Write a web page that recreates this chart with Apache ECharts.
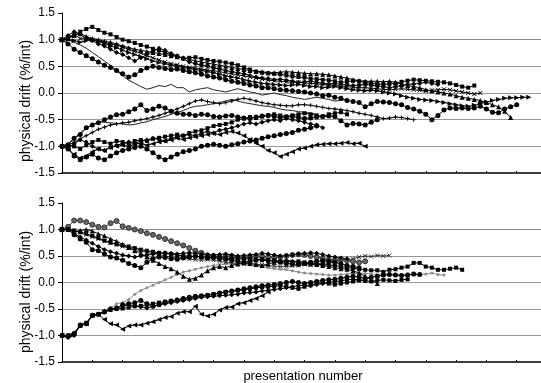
<!DOCTYPE html>
<html>
<head>
<meta charset="utf-8">
<script src="https://cdn.jsdelivr.net/npm/echarts@6/dist/echarts.min.js"></script>
<style>
  html, body { margin: 0; padding: 0; background: #fff; }
  #main { width: 541px; height: 383px; }
</style>
</head>
<body>
<div id="main"></div>
<script>
// one value per presentation, index = presentation number

// top panel, runs starting at +1
const topUp1 = [1.00,1.02,1.08,1.15,1.20,1.24,1.18,1.13,1.10,1.05,1.00,0.97,0.94,0.90,0.87,0.83,0.80,0.76,0.72,0.68,0.65,0.66,0.67,0.64,0.62,0.60,0.59,0.57,0.55,0.52,0.48,0.44,0.40,0.38,0.37,0.36,0.35,0.33,0.31,0.30,0.29,0.27,0.26,0.25,0.24,0.22,0.20,0.21,0.23,0.22,0.20,0.18,0.17,0.16,0.17,0.18,0.21,0.23,0.25,0.24,0.23,0.22,0.21,0.20,0.18,0.15,0.12,0.10,0.14];
const topUp2 = [1.00,1.03,1.08,1.12,1.06,1.02,1.00,0.97,0.95,0.92,0.88,0.85,0.82,0.80,0.78,0.76,0.74,0.72,0.70,0.68,0.66,0.63,0.60,0.58,0.56,0.54,0.52,0.50,0.48,0.46,0.44,0.42,0.41,0.40,0.38,0.38,0.39,0.40,0.39,0.38,0.37,0.36,0.36,0.35,0.34,0.32,0.30,0.28,0.25,0.23,0.22,0.22,0.22,0.21,0.22,0.20,0.16,0.14,0.12,0.10,0.06,0.04,0.02,0.00,-0.02,-0.05,-0.08,-0.10,-0.12,-0.14,-0.18,-0.22,-0.26,-0.34,-0.46];
const topUp3 = [1.00,1.00,0.98,0.95,0.98,1.00,0.97,0.93,0.88,0.85,0.80,0.76,0.72,0.68,0.64,0.60,0.57,0.55,0.52,0.50,0.48,0.46,0.44,0.42,0.40,0.38,0.35,0.32,0.30,0.28,0.25,0.22,0.20,0.18,0.17,0.16,0.15,0.14,0.15,0.16,0.14,0.12,0.12,0.10,0.11,0.12,0.10,0.08,0.06,0.05,0.04,0.05,0.04,0.02,0.00,-0.02,-0.05,-0.08,-0.10,-0.12,-0.13,-0.14,-0.16,-0.18,-0.20,-0.22,-0.24,-0.25,-0.23,-0.20,-0.17,-0.14,-0.12,-0.10,-0.09,-0.09,-0.08,-0.08];
const topUp4 = [1.00,0.92,0.82,0.76,0.70,0.64,0.58,0.52,0.48,0.42,0.36,0.30,0.34,0.42,0.47,0.50,0.48,0.46,0.44,0.45,0.42,0.40,0.38,0.35,0.32,0.30,0.28,0.25,0.22,0.20,0.18,0.15,0.13,0.10,0.10,0.08,0.06,0.05,0.04,0.03,0.02,0.00,-0.02,-0.05,-0.04,-0.08,-0.10,-0.14,-0.16,-0.18,-0.26,-0.20,-0.16,-0.17,-0.18,-0.20,-0.22,-0.27,-0.30,-0.34,-0.40,-0.50,-0.42,-0.32,-0.28,-0.29,-0.28,-0.29,-0.28,-0.25,-0.30,-0.36,-0.37,-0.30,-0.26,-0.22];
const topUp5 = [1.00,1.08,1.15,1.10,1.02,0.98,0.92,0.88,0.82,0.76,0.72,0.66,0.60,0.66,0.72,0.78,0.84,0.80,0.74,0.70,0.64,0.58,0.55,0.52,0.50,0.47,0.45,0.42,0.40,0.38,0.36,0.33,0.30,0.28,0.27,0.25,0.26,0.24,0.22,0.20,0.21,0.22,0.20,0.18,0.17,0.18,0.16,0.15,0.14,0.15,0.16,0.15,0.13,0.12,0.10,0.12,0.14,0.16,0.17,0.18,0.20,0.18,0.16];
const topUp6 = [1.00,1.04,1.10,1.02,1.04,1.00,0.98,0.95,0.92,0.90,0.86,0.82,0.78,0.75,0.70,0.66,0.62,0.58,0.55,0.53,0.50,0.48,0.47,0.45,0.43,0.42,0.40,0.38,0.36,0.34,0.32,0.30,0.28,0.26,0.24,0.23,0.22,0.21,0.20,0.20,0.19,0.18,0.17,0.16,0.15,0.14,0.13,0.12,0.11,0.10,0.10,0.09,0.08,0.07,0.06,0.07,0.08,0.07,0.06,0.05,0.04,0.05,0.06,0.07,0.06,0.04,0.02,0.00,-0.02,0.00];
const topUp7 = [1.00,1.00,0.95,0.90,0.84,0.76,0.68,0.60,0.52,0.42,0.32,0.24,0.18,0.12,0.07,0.10,0.14,0.12,0.16,0.10,0.10,0.02,0.06,0.08,0.10,0.06,0.04,0.02,0.05,0.08,0.05,0.02,0.00,-0.04,-0.02,0.00,-0.03,-0.05,-0.08,-0.10,-0.12,-0.10,-0.08,-0.10,-0.12,-0.15,-0.14,-0.12];

// top panel, runs starting at -1
const topLow1 = [-1.00,-0.97,-0.85,-0.78,-0.65,-0.60,-0.56,-0.50,-0.45,-0.41,-0.40,-0.35,-0.30,-0.22,-0.33,-0.30,-0.25,-0.28,-0.34,-0.38,-0.40,-0.40,-0.42,-0.40,-0.41,-0.44,-0.45,-0.43,-0.42,-0.45,-0.47,-0.48,-0.45,-0.43,-0.42,-0.44,-0.46,-0.45,-0.44,-0.46,-0.48,-0.47,-0.45,-0.44,-0.43,-0.44,-0.52,-0.60,-0.57,-0.58,-0.60,-0.55,-0.50];
const topLow2 = [-1.00,-0.98,-0.92,-0.86,-0.80,-0.74,-0.68,-0.64,-0.60,-0.58,-0.56,-0.55,-0.52,-0.50,-0.48,-0.45,-0.42,-0.38,-0.34,-0.30,-0.25,-0.20,-0.15,-0.13,-0.16,-0.18,-0.20,-0.18,-0.15,-0.12,-0.10,-0.12,-0.15,-0.18,-0.20,-0.22,-0.23,-0.24,-0.24,-0.22,-0.22,-0.23,-0.25,-0.27,-0.29,-0.30,-0.31,-0.33,-0.35,-0.38,-0.40,-0.42,-0.45,-0.48,-0.47,-0.45,-0.46,-0.48,-0.50];
const topLow3 = [-1.00,-0.95,-0.85,-0.75,-0.66,-0.60,-0.54,-0.55,-0.56,-0.57,-0.58,-0.60,-0.59,-0.56,-0.54,-0.50,-0.47,-0.44,-0.40,-0.37,-0.33,-0.28,-0.25,-0.24,-0.22,-0.20,-0.18,-0.15,-0.12,-0.15,-0.18,-0.20,-0.22,-0.24,-0.25,-0.27,-0.30,-0.32,-0.33,-0.35,-0.36,-0.38,-0.40];
const topLow4 = [-1.00,-1.02,-0.95,-0.88,-0.92,-1.00,-1.05,-1.08,-1.02,-0.98,-0.95,-0.92,-0.95,-0.90,-0.88,-0.85,-0.87,-0.90,-0.86,-0.82,-0.80,-0.78,-0.80,-0.76,-0.72,-0.75,-0.70,-0.68,-0.65,-0.62,-0.58,-0.56,-0.58,-0.55,-0.52,-0.50,-0.52,-0.48,-0.50,-0.52,-0.55,-0.58,-0.60,-0.65];
const topLow5 = [-1.00,-1.05,-1.15,-1.22,-1.18,-1.10,-1.05,-1.08,-1.02,-1.00,-0.98,-1.00,-0.96,-0.94,-0.98,-0.95,-0.92,-0.90,-0.88,-0.85,-0.87,-0.84,-0.82,-0.80,-0.78,-0.76,-0.78,-0.74,-0.72,-0.75,-0.80,-0.87,-0.94,-1.00,-1.08,-1.12,-1.19,-1.15,-1.10,-1.05,-1.03,-1.00,-0.97,-0.96,-0.95,-0.95,-0.94,-0.93,-0.95,-0.94,-1.00];
const topLow6 = [-1.00,-1.05,-1.18,-1.25,-1.20,-1.15,-1.22,-1.25,-1.18,-1.12,-1.08,-1.05,-1.02,-1.00,-1.05,-1.12,-1.20,-1.25,-1.20,-1.15,-1.10,-1.08,-1.05,-1.00,-0.98,-0.96,-0.98,-1.00,-0.97,-0.95,-0.92,-0.90,-0.88,-0.85,-0.82,-0.80,-0.78,-0.76,-0.74,-0.70,-0.68,-0.65,-0.62];
const topLow7 = [-1.00,-0.98,-1.00,-1.05,-0.98,-0.92,-0.88,-0.92,-0.95,-0.90,-0.92,-0.95,-0.90,-0.88,-0.90,-0.86,-0.84,-0.82,-0.80,-0.78,-0.80,-0.75,-0.72,-0.70,-0.66,-0.62,-0.60,-0.58,-0.55,-0.50,-0.48,-0.45,-0.47,-0.44,-0.42,-0.40,-0.42,-0.44,-0.42,-0.40,-0.38,-0.40,-0.42,-0.44,-0.40,-0.38,-0.36,-0.40];

// bottom panel, runs starting at +1
const botUp1 = [1.00,1.05,1.17,1.17,1.14,1.09,1.05,1.04,1.12,1.16,1.06,1.03,1.00,0.97,0.93,0.90,0.86,0.82,0.78,0.74,0.70,0.65,0.60,0.56,0.51,0.50,0.48,0.50,0.49,0.47,0.46,0.48,0.50,0.49,0.48,0.47,0.48,0.50,0.52,0.53,0.52,0.50,0.48,0.45,0.43,0.42,0.44,0.42,0.40,0.38,0.40];
const botUp2 = [1.00,1.00,0.90,0.82,0.76,0.62,0.60,0.54,0.48,0.46,0.42,0.36,0.32,0.28,0.38,0.45,0.48,0.47,0.45,0.44,0.46,0.48,0.50,0.48,0.46,0.47,0.45,0.44,0.42,0.40,0.38,0.40,0.42,0.44,0.42,0.40,0.38,0.36,0.35,0.34,0.36,0.38,0.40,0.41,0.40,0.38,0.35,0.32,0.30,0.28];
const botUp3 = [1.00,1.00,0.98,0.95,0.92,0.88,0.84,0.79,0.75,0.72,0.70,0.68,0.65,0.62,0.60,0.58,0.56,0.55,0.53,0.52,0.50,0.50,0.49,0.48,0.47,0.48,0.47,0.46,0.45,0.45,0.44,0.45,0.44,0.42,0.41,0.42,0.40,0.40,0.39,0.40,0.38,0.36,0.35,0.34,0.33,0.32,0.30,0.28,0.27,0.25,0.24,0.23,0.23,0.20,0.24,0.25,0.28,0.30,0.37,0.37,0.30,0.28,0.24,0.24,0.26,0.28,0.24];
const botUp4 = [1.00,1.00,0.95,0.98,1.00,0.97,0.92,0.88,0.82,0.78,0.72,0.66,0.60,0.55,0.48,0.42,0.36,0.30,0.26,0.20,0.12,0.06,0.08,0.14,0.22,0.28,0.30,0.28,0.32,0.35,0.38,0.36,0.34,0.32,0.35,0.38,0.40,0.42,0.40,0.38,0.36,0.35,0.34,0.32,0.30,0.28,0.26,0.25,0.22,0.18,0.12,0.05,-0.02];
const botUp5 = [1.00,1.02,0.98,0.94,0.90,0.86,0.82,0.78,0.75,0.72,0.68,0.65,0.62,0.60,0.57,0.55,0.53,0.50,0.48,0.47,0.46,0.44,0.43,0.42,0.43,0.42,0.40,0.38,0.37,0.36,0.35,0.36,0.34,0.33,0.32,0.31,0.30,0.30,0.31,0.32,0.34,0.33,0.35,0.36,0.37,0.38,0.40,0.42,0.45,0.48,0.50,0.49,0.51,0.50,0.51];
const botUp6 = [1.00,1.00,0.92,0.86,0.80,0.74,0.68,0.62,0.58,0.55,0.52,0.50,0.48,0.50,0.52,0.54,0.55,0.56,0.55,0.54,0.55,0.56,0.55,0.54,0.53,0.52,0.53,0.54,0.52,0.50,0.51,0.52,0.53,0.55,0.54,0.52,0.50,0.51,0.52,0.54,0.55,0.56,0.55,0.53,0.50,0.48,0.46,0.45];

// bottom panel, runs starting at -1
const botLow1 = [-1.00,-1.00,-0.96,-0.80,-0.78,-0.62,-0.60,-0.55,-0.50,-0.48,-0.42,-0.40,-0.38,-0.34,-0.40,-0.45,-0.42,-0.38,-0.35,-0.33,-0.30,-0.28,-0.26,-0.25,-0.24,-0.22,-0.20,-0.18,-0.16,-0.14,-0.12,-0.10,-0.08,-0.06,-0.05,-0.04,-0.02,0.00,0.02,0.00,-0.02,0.00,0.02,0.04,0.05,0.06,0.08,0.10,0.12,0.10,0.08,0.10,0.12,0.14,0.15,0.14,0.13,0.14,0.16,0.15];
const botLow2 = [-1.00,-1.00,-0.96,-0.82,-0.78,-0.64,-0.60,-0.52,-0.48,-0.40,-0.38,-0.32,-0.22,-0.15,-0.10,-0.05,0.00,0.05,0.10,0.15,0.20,0.22,0.25,0.28,0.30,0.32,0.34,0.35,0.36,0.35,0.34,0.33,0.32,0.30,0.28,0.26,0.25,0.24,0.22,0.20,0.18,0.17,0.16,0.15,0.14,0.14,0.15,0.16,0.17,0.18,0.17,0.16,0.15,0.16,0.15,0.14,0.15,0.16,0.14,0.15,0.16,0.18,0.15,0.14];
const botLow3 = [-1.00,-1.02,-0.98,-0.82,-0.76,-0.62,-0.60,-0.56,-0.52,-0.50,-0.49,-0.47,-0.45,-0.44,-0.42,-0.40,-0.38,-0.36,-0.35,-0.34,-0.32,-0.30,-0.28,-0.26,-0.24,-0.22,-0.20,-0.18,-0.17,-0.15,-0.14,-0.12,-0.10,-0.09,-0.08,-0.07,-0.06,-0.08,-0.10,-0.12,-0.08,-0.05,-0.02,0.00,-0.02,-0.04,-0.02,0.00,0.02,0.04,0.03,0.02,0.04,0.05,0.04,0.03,0.05,0.06];
const botLow4 = [-1.00,-1.04,-1.00,-0.80,-0.78,-0.62,-0.60,-0.55,-0.50,-0.48,-0.45,-0.42,-0.44,-0.46,-0.48,-0.45,-0.42,-0.40,-0.38,-0.36,-0.34,-0.32,-0.30,-0.28,-0.27,-0.26,-0.25,-0.24,-0.23,-0.22,-0.20,-0.19,-0.18,-0.16,-0.15,-0.13,-0.12,-0.10,-0.08,-0.06,-0.05,-0.06,-0.04,-0.02,0.00,0.02,0.03,0.05,0.06,0.05,0.04];
const botLow5 = [-1.00,-1.00,-0.95,-0.80,-0.78,-0.62,-0.60,-0.70,-0.78,-0.80,-0.88,-0.82,-0.80,-0.80,-0.77,-0.74,-0.70,-0.66,-0.64,-0.58,-0.55,-0.55,-0.45,-0.60,-0.63,-0.60,-0.52,-0.47,-0.46,-0.40,-0.38,-0.34,-0.30,-0.25,-0.18];

const yTickLabels = ['-1.5', '-1.0', '-0.5', '0.0', '0.5', '1.0', '1.5'];
const xTickStep = 5;
const xLastPresentation = 79;

const crossPath = 'path://M0,0L10,10M10,0L0,10';
const plusPath = 'path://M5,0L5,10M0,5L10,5';

function run(values, panel, symbol, extra) {
  const o = extra || {};
  const color = o.color || '#000';
  return {
    type: 'line',
    xAxisIndex: panel,
    yAxisIndex: panel,
    data: values.map((v, i) => [i, v]),
    symbol: symbol,
    symbolSize: o.size || 5,
    symbolRotate: o.rotate || 0,
    showSymbol: symbol !== 'none',
    lineStyle: { color: color, width: o.width || 1 },
    itemStyle: {
      color: o.fill || color,
      borderColor: color,
      borderWidth: o.border || 0
    },
    z: o.z || 2
  };
}

const font = '"Liberation Sans", Arial, sans-serif';

function yAxis(gridIndex) {
  return {
    type: 'value',
    gridIndex: gridIndex,
    min: -1.5,
    max: 1.5,
    interval: 0.5,
    axisLine: { show: true, lineStyle: { color: '#000', width: 1 } },
    axisTick: { show: true, length: 4, lineStyle: { color: '#000' } },
    axisLabel: {
      color: '#000',
      fontSize: 12,
      fontFamily: font,
      margin: 7,
      formatter: (v) => yTickLabels[Math.round((v + 1.5) / 0.5)]
    },
    splitLine: {
      show: true,
      lineStyle: {
        color: ['rgba(0,0,0,0)', '#999', '#999', '#999', '#999', '#8a8a8a', 'rgba(0,0,0,0)'],
        width: 1
      }
    }
  };
}

function xAxis(gridIndex) {
  return {
    type: 'value',
    gridIndex: gridIndex,
    min: 0,
    max: xLastPresentation,
    interval: xTickStep,
    axisLine: { show: true, onZero: false, lineStyle: { color: '#000', width: 1.5 } },
    axisTick: { show: true, inside: true, length: 2, lineStyle: { color: '#000' } },
    axisLabel: { show: false },
    splitLine: { show: false }
  };
}

const series = [
  run(topUp7, 0, 'none', { color: '#222' }),
  run(topUp6, 0, crossPath, { border: 1, size: 4 }),
  run(topUp5, 0, 'diamond', { size: 5 }),
  run(topUp4, 0, 'circle', { size: 5 }),
  run(topUp3, 0, 'triangle', { rotate: -90, size: 5 }),
  run(topUp2, 0, 'triangle', { size: 5 }),
  run(topUp1, 0, 'rect', { size: 4 }),
  run(topLow3, 0, 'none', { color: '#222' }),
  run(topLow2, 0, plusPath, { border: 1, size: 4 }),
  run(topLow1, 0, 'circle', { size: 5 }),
  run(topLow4, 0, 'diamond', { size: 5 }),
  run(topLow5, 0, 'triangle', { rotate: 90, size: 5 }),
  run(topLow6, 0, 'circle', { size: 5 }),
  run(topLow7, 0, 'rect', { size: 4 }),

  run(botLow2, 1, 'circle', { color: '#8c8c8c', size: 3 }),
  run(botUp5, 1, crossPath, { border: 1, size: 4, color: '#333' }),
  run(botUp1, 1, 'circle', { color: '#333', fill: '#666', border: 1, size: 5 }),
  run(botUp2, 1, 'circle', { size: 5 }),
  run(botUp3, 1, 'rect', { size: 4 }),
  run(botUp4, 1, 'triangle', { size: 5 }),
  run(botUp6, 1, 'diamond', { size: 5 }),
  run(botLow1, 1, 'circle', { size: 5 }),
  run(botLow3, 1, 'rect', { size: 4 }),
  run(botLow4, 1, 'diamond', { size: 5 }),
  run(botLow5, 1, 'triangle', { rotate: 90, size: 5 })
];

const option = {
  animation: false,
  backgroundColor: '#fff',
  grid: [
    { left: 62, top: 13, width: 479, height: 160 },
    { left: 62, top: 203, width: 479, height: 159 }
  ],
  xAxis: [xAxis(0), xAxis(1)],
  yAxis: [yAxis(0), yAxis(1)],
  series: series,
  graphic: [
    {
      type: 'text', x: 26, y: 101, rotation: Math.PI / 2,
      style: { text: 'physical drift (%/int)', align: 'center', verticalAlign: 'middle', font: '14px ' + font, fill: '#000' }
    },
    {
      type: 'text', x: 26, y: 292, rotation: Math.PI / 2,
      style: { text: 'physical drift (%/int)', align: 'center', verticalAlign: 'middle', font: '14px ' + font, fill: '#000' }
    },
    {
      type: 'text', x: 303, y: 376,
      style: { text: 'presentation number', align: 'center', verticalAlign: 'middle', font: '13px ' + font, fill: '#000' }
    }
  ]
};

const myChart = echarts.init(document.getElementById('main'), null, { renderer: 'canvas' });
myChart.setOption(option);
</script>
</body>
</html>
